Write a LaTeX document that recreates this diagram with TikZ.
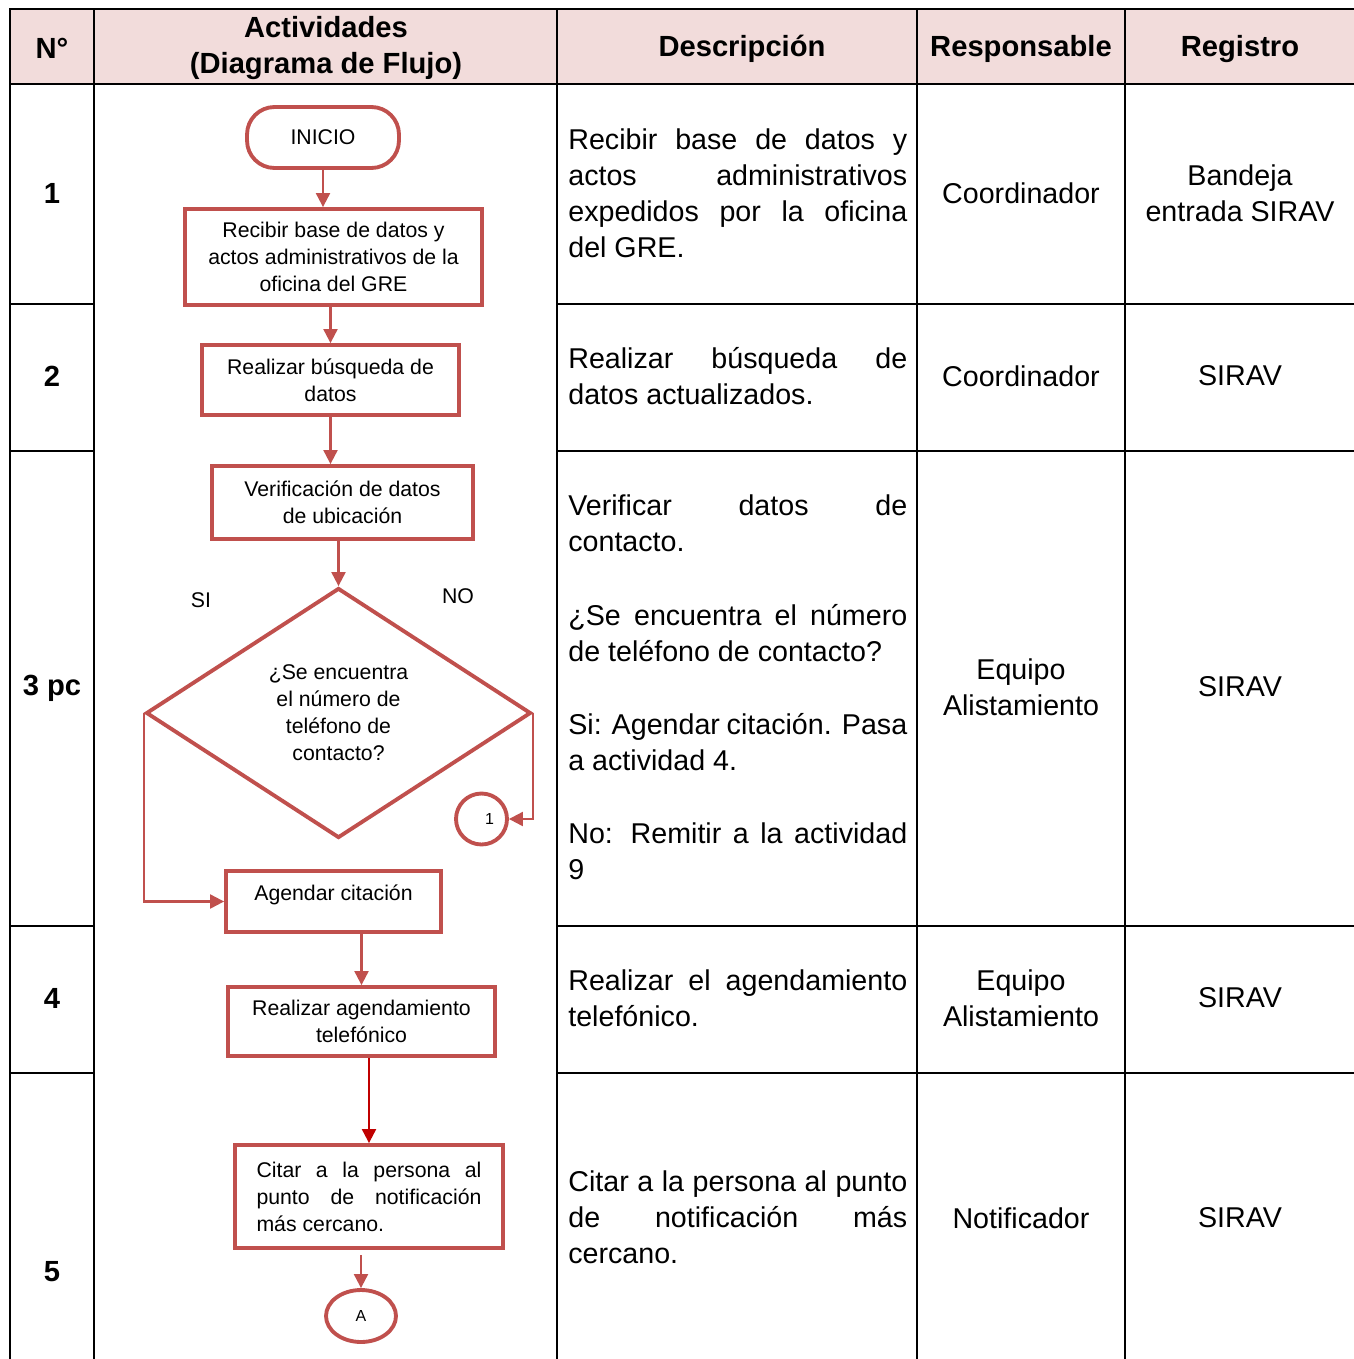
\documentclass[tikz,border=0pt]{standalone}
\usepackage{fontspec}
\setmainfont{Liberation Sans}
\usetikzlibrary{shapes.geometric,arrows.meta}
\definecolor{flred}{HTML}{C0504D}
\definecolor{flarrow}{HTML}{C00000}
\definecolor{headpink}{HTML}{F2DCDB}

\begin{document}
\begin{tikzpicture}[x=0.02cm, y=-0.02cm, font=\fontsize{16.3}{20.5}\selectfont,
        every node/.style={align=center, inner sep=0pt},
        headtxt/.style={font=\fontsize{16.6}{21}\selectfont\bfseries},
        desctxt/.style={text width=6.78cm, align=justify, anchor=west},
        flbox/.style={draw=flred, line width=2.2pt, font=\fontsize{12.1}{15.4}\selectfont},
        conntxt/.style={font=\fontsize{9.1}{11}\selectfont},
        flarr/.style={draw=flred, line width=1.2pt, -{Triangle[width=8pt,length=8pt]}}]
        \useasboundingbox (0,0) rectangle (1354,1359);
        \fill[headpink] (10,9) rectangle (1354,84);
        \draw[line width=1.7pt] (1354,9) -- (10,9) -- (10,1359);
        \draw[line width=1.7pt] (10,84) -- (1354,84);
        \foreach \x in {94,557,917,1125} \draw[line width=1.2pt] (\x,9) -- (\x,1359);
        \foreach \y in {304,451,926,1073} {
            \draw[line width=1.2pt] (10,\y) -- (94,\y);
            \draw[line width=1.2pt] (557,\y) -- (1354,\y);
        }

        \node[headtxt] (hnum) at (52,48) {N°};
        \node[headtxt] (hact) at (326,48) {Actividades\\(Diagrama de Flujo)};
        \node[headtxt] (hdesc) at (742,49) {Descripción};
        \node[headtxt] (hresp) at (1021,49) {Responsable};
        \node[headtxt] (hreg) at (1240,49) {Registro};

        \node[headtxt] (n1) at (52,193) {1};
        \node[headtxt] (n2) at (52,376) {2};
        \node[headtxt] (n3) at (52,688) {3 pc};
        \node[headtxt] (n4) at (52,998) {4};
        \node[headtxt] (n5) at (52,1272) {5};

        \node[desctxt] (d1) at (568,193) {Recibir base de datos y\linebreak actos administrativos\linebreak expedidos por la oficina\linebreak del GRE.};
        \node[desctxt] (d2) at (568,376.5) {Realizar búsqueda de\linebreak datos actualizados.};
        \node[desctxt] (d3a) at (568,523) {Verificar datos de\linebreak contacto.};
        \node[desctxt] (d3b) at (568,633) {¿Se encuentra el número\linebreak de teléfono de contacto?};
        \node[desctxt] (d3c) at (568,742) {Si: Agendar citación. Pasa\linebreak a actividad 4.};
        \node[desctxt] (d3d) at (568,851) {No: Remitir a la actividad\linebreak 9};
        \node[desctxt] (d4) at (568,998) {Realizar el agendamiento\linebreak telefónico.};
        \node[desctxt] (d5) at (568,1217.5) {Citar a la persona al punto\linebreak de notificación más\linebreak cercano.};

        \node (r1) at (1021,193) {Coordinador};
        \node (r2) at (1021,376) {Coordinador};
        \node (r3) at (1021,687) {Equipo\\Alistamiento};
        \node (r4) at (1021,998) {Equipo\\Alistamiento};
        \node (r5) at (1021,1218) {Notificador};
        \node (g1) at (1240,193) {Bandeja\\entrada SIRAV};
        \node (g2) at (1240,376) {SIRAV};
        \node (g3) at (1240,687) {SIRAV};
        \node (g4) at (1240,998) {SIRAV};
        \node (g5) at (1240,1218) {SIRAV};

        \node[flbox, rounded corners=0.55cm, minimum width=3.04cm, minimum height=1.22cm] (inicio) at (323,137.5) {INICIO};
        \node[flbox, minimum width=5.94cm, minimum height=1.92cm] (recibir) at (333.5,257) {Recibir base de datos y\\actos administrativos de la\\oficina del GRE};
        \node[flbox, minimum width=5.14cm, minimum height=1.4cm] (busqueda) at (330.5,380) {Realizar búsqueda de\\datos};
        \node[flbox, minimum width=5.22cm, minimum height=1.46cm] (verifica) at (342.5,502.5) {Verificación de datos\\de ubicación};
        \node[flbox, diamond, minimum width=7.7cm, minimum height=5cm] (pregunta) at (338.5,713) {¿Se encuentra\\el número de\\teléfono de\\contacto?};
        \node[flbox, circle, minimum size=1.02cm, conntxt] (uno) at (481.5,819) {\hspace*{0.32cm}1};
        \node[flbox, minimum width=4.3cm, minimum height=1.22cm, text height=10pt, text depth=11pt] (agendar) at (333.5,901.5) {Agendar citación};
        \node[flbox, minimum width=5.34cm, minimum height=1.38cm] (telefono) at (361.5,1021.5) {Realizar agendamiento\\telefónico};
        \node[flbox, minimum width=5.36cm, minimum height=2.06cm, text width=4.5cm, align=justify] (citar) at (369,1196.5) {Citar a la persona al\linebreak punto de notificación\linebreak más cercano.};
        \node[flbox, ellipse, minimum width=1.4cm, minimum height=1.04cm, conntxt] (conA) at (361,1316) {A};
        \node[font=\fontsize{12.1}{15}\selectfont] (si) at (201,600) {SI};
        \node[font=\fontsize{12.1}{15}\selectfont] (no) at (458,596) {NO};

        \draw[flarr] (inicio.south) -- (inicio.south |- recibir.north);
        \draw[flarr] (busqueda.north |- recibir.south) -- (busqueda.north);
        \draw[flarr] (busqueda.south) -- (busqueda.south |- verifica.north);
        \draw[flarr] (pregunta.north |- verifica.south) -- (pregunta.north);
        \draw[flarr] (pregunta.east) |- (uno.east);
        \draw[flarr] (pregunta.west) |- (agendar.west);
        \draw[flarr] (telefono.north |- agendar.south) -- (telefono.north);
        \draw[flarr, draw=flarrow] (citar.north |- telefono.south) -- (citar.north);
        \draw[flarr, shorten <=3pt] (conA.north |- citar.south) -- (conA.north);
    \end{tikzpicture}
\end{document}
